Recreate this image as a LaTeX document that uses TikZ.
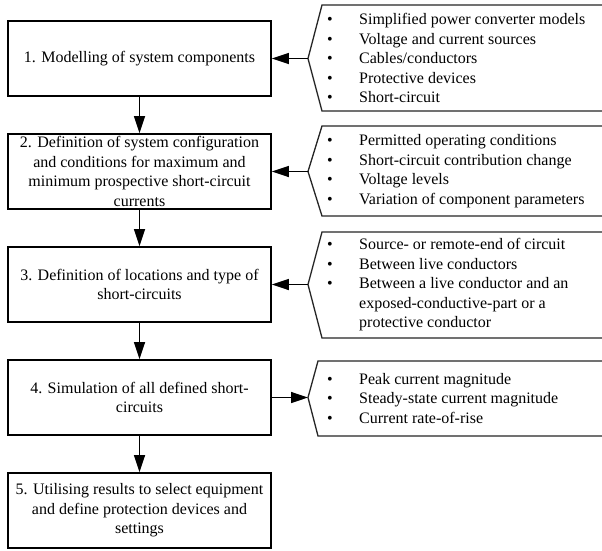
\documentclass[tikz,border=0pt]{standalone}
\usepackage{fontspec}
\setmainfont{Liberation Serif}
\usetikzlibrary{arrows.meta}
\newcommand\itm[1]{\makebox[32pt][l]{•}#1}
\newcommand\cnt[1]{\hspace*{32pt}#1}
\begin{document}
\begin{tikzpicture}[x=1pt,y=-1pt,
  stepbox/.style={draw=black, line width=1.6pt, minimum width=263pt, minimum height=75pt, align=center, inner sep=0pt, font=\fontsize{16}{19.5}\selectfont},
  listtext/.style={anchor=west, align=left, inner sep=0pt, font=\fontsize{16}{19.5}\selectfont},
  callout/.style={draw=black!85, line width=1.3pt},
  link/.style={line width=1.3pt, -{Triangle[length=17pt,width=11pt]}}]
\useasboundingbox[fill=white] (0,0) rectangle (602,550);

% process boxes
\node[stepbox] (b1) at (139.5,58.5) {1. Modelling of system components};
\node[stepbox] (b2) at (139.5,171.5) {2. Definition of system configuration\\and conditions for maximum and\\minimum prospective short-circuit\\currents};
\node[stepbox] (b3) at (139.5,284.5) {3. Definition of locations and type of\\short-circuits};
\node[stepbox] (b4) at (139.5,397.5) {4. Simulation of all defined short-\\circuits};
\node[stepbox] (b5) at (139.5,510.5) {5. Utilising results to select equipment\\and define protection devices and\\settings};

% callout outlines
\coordinate (t1) at (308,58.5);
\coordinate (t2) at (308,171.5);
\coordinate (t3) at (308,284.5);
\coordinate (t4) at (308,397.5);
\draw[callout] (602,5) -- (322,5) -- (t1) -- (322,111) -- (602,111);
\draw[callout] (602,126) -- (322,126) -- (t2) -- (322,216) -- (602,216);
\draw[callout] (602,232) -- (322,232) -- (t3) -- (322,338) -- (602,338);
\draw[callout] (602,361) -- (318,361) -- (t4) -- (318,436) -- (602,436);

% callout texts
\node[listtext] (l1) at (327,58) {\itm{Simplified power converter models}\\\itm{Voltage and current sources}\\\itm{Cables/conductors}\\\itm{Protective devices}\\\itm{Short-circuit}};
\node[listtext] (l2) at (327,171) {\itm{Permitted operating conditions}\\\itm{Short-circuit contribution change}\\\itm{Voltage levels}\\\itm{Variation of component parameters}};
\node[listtext] (l3) at (327,285) {\itm{Source- or remote-end of circuit}\\\itm{Between live conductors}\\\itm{Between a live conductor and an}\\\cnt{exposed-conductive-part or a}\\\cnt{protective conductor}};
\node[listtext] (l4) at (327,398.5) {\itm{Peak current magnitude}\\\itm{Steady-state current magnitude}\\\itm{Current rate-of-rise}};

% connectors
\draw[link] (b1.south) -- (b2.north);
\draw[link] (b2.south) -- (b3.north);
\draw[link] (b3.south) -- (b4.north);
\draw[link] (b4.south) -- (b5.north);
\draw[link] (t1) -- (b1.east);
\draw[link] (t2) -- (b2.east);
\draw[link] (t3) -- (b3.east);
\draw[link] (b4.east) -- (t4);
\end{tikzpicture}
\end{document}
